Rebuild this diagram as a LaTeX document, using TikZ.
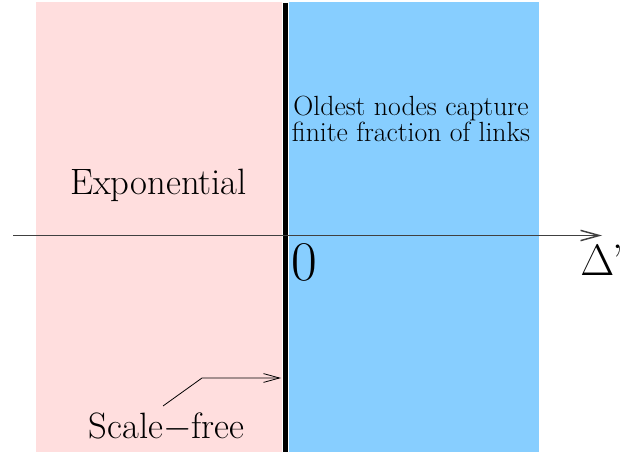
\RequirePackage{fix-cm}
\documentclass[tikz,border=0pt]{standalone}
\usetikzlibrary{arrows.meta}
\definecolor{exppink}{RGB}{255,222,222}
\definecolor{sfblue}{RGB}{135,206,255}
\begin{document}
\begin{tikzpicture}[x=0.75pt, y=-0.75pt,
    label/.style={inner sep=0pt, anchor=base},
    barb/.style={-{Straight Barb[length=#1, width=#1*0.55]}}]
  \useasboundingbox (0,0) rectangle (629,456);

  % Regions
  \fill[exppink] (36,2) rectangle (282,452);
  \fill[sfblue] (289,2) rectangle (539,452);
  \draw[line width=3.8pt] (285.5,3) -- (285.5,452);

  % Axis
  \coordinate (axisL) at (13,235.5);
  \coordinate (axisR) at (602,235.5);
  \draw[line width=1.1pt, black!75, barb=14pt] (axisL) -- (axisR);
  \node[label, font=\fontsize{42}{42}\selectfont, anchor=base west] (zero) at (291,281) {0};
  \node[label, font=\fontsize{33}{33}\selectfont, anchor=base west] (delta) at (580,276) {$\Delta$\kern-1pt’};

  % Phases
  \node[label, font=\fontsize{27.5}{27.5}\selectfont] (expo) at (158.5,195) {Exponential};
  \node[font=\fontsize{20.8}{19.5}\selectfont, align=center, inner sep=0pt, anchor=north] (oldest) at (411,96)
    {Oldest nodes capture\\finite fraction of links};
  \node[label, font=\fontsize{27.5}{27.5}\selectfont] (sfree) at (166.5,438) {Scale$-$free};

  % Leader to the critical line
  \coordinate (leadA) at (163,406);
  \coordinate (leadB) at (202,378);
  \coordinate (leadC) at (281,378);
  \draw[line width=0.6pt, barb=12pt] (leadA) -- (leadB) -- (leadC);
\end{tikzpicture}
\end{document}
